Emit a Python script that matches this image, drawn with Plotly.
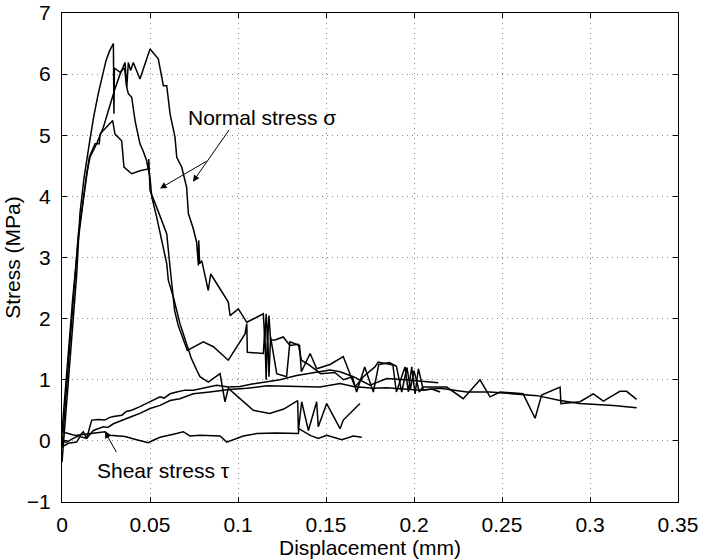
import plotly.graph_objects as go

# ---------------- data ----------------
# Normal stress, test 1 (ends near 0.17 mm)
n1_x = [0, 0.0035, 0.0064, 0.0083, 0.0102, 0.0125, 0.0155, 0.018, 0.0206, 0.023, 0.025, 0.027,
        0.0292, 0.0295, 0.0298, 0.0307, 0.033, 0.0355, 0.0368, 0.0377, 0.0396, 0.0415, 0.0443,
        0.046, 0.048, 0.05, 0.051, 0.0538, 0.0576, 0.0595, 0.0604, 0.0633, 0.067, 0.0708, 0.0735,
        0.0765, 0.0784, 0.0831, 0.0898, 0.0926, 0.0945, 0.1, 0.1087, 0.118, 0.126, 0.1339, 0.1343,
        0.1362, 0.14, 0.1447, 0.1456, 0.1504, 0.158, 0.1598, 0.1693]
n1_y = [-0.35, 1.0, 2.1, 2.7, 3.72, 4.3, 4.86, 5.3, 5.68, 6.0, 6.22, 6.38,
        6.5, 5.35, 6.1, 6.08, 6.03, 6.1, 5.78, 5.68, 5.62, 5.24, 4.86,
        4.75, 4.59, 4.31, 3.99, 3.66, 3.17, 2.9, 2.63, 2.35, 1.92, 1.6, 1.35,
        1.16, 1.05, 0.96, 1.1, 0.64, 0.86, 0.72, 0.5, 0.45, 0.52, 0.66, 0.17,
        0.64, 0.17, 0.64, 0.23, 0.61, 0.2, 0.34, 0.61]

# Normal stress, test 2 (ends near 0.215 mm)
n2_x = [0, 0.003, 0.006, 0.0093, 0.0131, 0.0155, 0.0188, 0.0212, 0.0216, 0.025, 0.0288, 0.0301,
        0.0339, 0.0352, 0.0396, 0.0443, 0.049, 0.0493, 0.05, 0.0538, 0.0566, 0.0595, 0.0614,
        0.064, 0.066, 0.0712, 0.0803, 0.086, 0.0945, 0.104, 0.105, 0.1053, 0.1144, 0.1152,
        0.116, 0.1168, 0.1176, 0.1185, 0.122, 0.1276, 0.1295, 0.135, 0.136, 0.141, 0.1447,
        0.1523, 0.1598, 0.1665, 0.1712, 0.1778, 0.1797, 0.188, 0.19, 0.1949, 0.1968, 0.1987,
        0.2006, 0.2025, 0.2053, 0.21, 0.2148]
n2_y = [-0.1, 1.0, 2.2, 3.39, 4.15, 4.64, 4.86, 4.86, 5.02, 5.13, 5.24, 5.02,
        4.91, 4.48, 4.37, 4.42, 4.45, 4.61, 4.1, 3.82, 3.6, 3.39, 2.84,
        2.13, 1.89, 1.48, 1.62, 1.54, 1.32, 1.75, 1.92, 1.45, 1.43, 1.81,
        1.0, 1.81, 1.05, 1.7, 1.1, 1.05, 1.62, 1.56, 1.13, 1.43, 1.18,
        1.25, 1.38, 0.88, 1.05, 1.21, 1.29, 1.24, 0.8, 1.21, 0.8, 1.21,
        0.77, 1.18, 0.83, 0.85, 0.8]

# Normal stress, test 3 (ends near 0.33 mm)
n3_x = [0, 0.003, 0.006, 0.0093, 0.012, 0.014, 0.0159, 0.0197, 0.0235, 0.0263, 0.0301, 0.033,
        0.0358, 0.0368, 0.0377, 0.039, 0.0405, 0.0443, 0.05, 0.0547, 0.0576, 0.0595, 0.0614,
        0.0642, 0.0652, 0.068, 0.0708, 0.0718, 0.0746, 0.0765, 0.0775, 0.0777, 0.0782, 0.0794,
        0.0831, 0.0845, 0.0879, 0.0945, 0.0955, 0.1002, 0.105, 0.1144, 0.1152, 0.116, 0.1168,
        0.1176, 0.1185, 0.121, 0.1257, 0.1295, 0.1343, 0.136, 0.14, 0.147, 0.155, 0.16, 0.165,
        0.1674, 0.172, 0.1769, 0.18, 0.186, 0.19, 0.193, 0.196, 0.198, 0.2, 0.203, 0.205,
        0.2186, 0.228, 0.2375, 0.2432, 0.2489, 0.262, 0.2688, 0.2725, 0.281, 0.283, 0.2835,
        0.2943, 0.3019, 0.3076, 0.3133, 0.317, 0.3208, 0.3265]
n3_y = [0.15, 1.2, 2.3, 3.3, 3.9, 4.37, 4.64, 4.86, 5.13, 5.4, 5.76, 6.0,
        6.19, 5.78, 6.19, 6.06, 6.19, 5.92, 6.41, 6.25, 5.81, 5.81, 5.35,
        4.97, 4.64, 4.48, 4.15, 3.72, 3.47, 3.25, 2.87, 3.28, 2.9, 2.95,
        2.46, 2.73, 2.57, 2.27, 2.05, 2.16, 1.94, 2.08, 1.65, 2.08, 1.65,
        2.05, 1.65, 1.65, 1.7, 1.56, 1.58, 1.32, 1.25, 1.1, 1.12, 1.0, 1.05,
        0.8, 1.21, 0.8, 1.25, 1.28, 1.22, 0.8, 1.2, 0.85, 1.15, 0.8, 0.88,
        0.88, 0.69, 1.0, 0.72, 0.8, 0.77, 0.37, 0.75, 0.86, 0.88, 0.61,
        0.64, 0.77, 0.65, 0.75, 0.81, 0.81, 0.68]

# Shear stress, test 1
s1_x = [0, 0.0074, 0.013, 0.0178, 0.0244, 0.0273, 0.0358, 0.0424, 0.049, 0.0519, 0.0557, 0.0633,
        0.0689, 0.0727, 0.0784, 0.0898, 0.0936, 0.103, 0.1106, 0.122, 0.1343, 0.1346, 0.141,
        0.1456, 0.1504, 0.159, 0.1655, 0.1703]
s1_y = [0.15, 0.09, 0.11, 0.13, 0.15, 0.09, 0.07, 0.02, -0.03, 0.01, 0.06, 0.11,
        0.15, 0.08, 0.09, 0.08, -0.02, 0.08, 0.12, 0.13, 0.12, 0.2, 0.09,
        0.04, 0.09, 0.02, 0.08, 0.06]

# Shear stress, test 2
s2_x = [0, 0.0027, 0.0064, 0.0102, 0.0121, 0.014, 0.0169, 0.0206, 0.0244, 0.0268, 0.0292, 0.034,
        0.0365, 0.0396, 0.0443, 0.047, 0.05, 0.0557, 0.058, 0.0614, 0.0652, 0.0699, 0.0746,
        0.084, 0.0879, 0.0945, 0.1011, 0.108, 0.1144, 0.1239, 0.1333, 0.1447, 0.1523, 0.158,
        0.1655, 0.175, 0.1845, 0.195, 0.205, 0.2138]
s2_y = [-0.02, -0.02, 0.04, 0.09, 0.15, 0.04, 0.34, 0.35, 0.34, 0.38, 0.4, 0.42,
        0.48, 0.5, 0.56, 0.6, 0.64, 0.72, 0.7, 0.77, 0.8, 0.83, 0.83,
        0.88, 0.91, 0.88, 0.89, 0.93, 0.96, 1.0, 1.07, 1.13, 1.16, 1.13,
        1.05, 0.91, 1.02, 1.0, 0.97, 0.95]

# Shear stress, test 3
s3_x = [0, 0.0036, 0.0083, 0.0102, 0.014, 0.0178, 0.0235, 0.026, 0.0292, 0.034, 0.0396, 0.0443,
        0.05, 0.0557, 0.0614, 0.067, 0.0746, 0.084, 0.095, 0.105, 0.1166, 0.1466, 0.158,
        0.1655, 0.1769, 0.1845, 0.2034, 0.2148, 0.23, 0.2432, 0.2564, 0.27, 0.283, 0.294,
        0.3133, 0.3265]
s3_y = [-0.1, -0.04, -0.02, 0.07, 0.04, 0.17, 0.23, 0.22, 0.28, 0.34, 0.4, 0.45,
        0.53, 0.58, 0.66, 0.69, 0.77, 0.8, 0.84, 0.86, 0.9, 0.88, 0.94,
        0.89, 0.86, 0.87, 0.83, 0.86, 0.8, 0.8, 0.77, 0.74, 0.66, 0.61,
        0.58, 0.54]

x_ticks = [0, 0.05, 0.1, 0.15, 0.2, 0.25, 0.3, 0.35]
x_tick_labels = ["0", "0.05", "0.1", "0.15", "0.2", "0.25", "0.3", "0.35"]
y_ticks = [-1, 0, 1, 2, 3, 4, 5, 6, 7]
y_tick_labels = ["\u22121", "0", "1", "2", "3", "4", "5", "6", "7"]

# ---------------- figure ----------------
FONT = "Liberation Sans, Arial, Helvetica, sans-serif"
fig = go.Figure()
for xs, ys in [(n1_x, n1_y), (n2_x, n2_y), (n3_x, n3_y),
               (s1_x, s1_y), (s2_x, s2_y), (s3_x, s3_y)]:
    fig.add_trace(go.Scatter(x=xs, y=ys, mode="lines",
                             line=dict(color="black", width=1.5),
                             showlegend=False, hoverinfo="skip"))

axis_common = dict(
    showline=True, linecolor="black", linewidth=1, mirror="ticks",
    ticks="inside", ticklen=5, tickcolor="black", tickwidth=1,
    showgrid=True, gridcolor="#8a8a8a", griddash="1px,4px", gridwidth=1,
    zeroline=False, automargin=False,
    tickfont=dict(family=FONT, size=21, color="black"),
)

fig.update_layout(
    width=707, height=560,
    margin=dict(l=62, r=29, t=13, b=58),
    paper_bgcolor="white", plot_bgcolor="white",
    font=dict(family=FONT, size=21, color="black"),
    xaxis=dict(range=[0, 0.35], tickvals=x_ticks, ticktext=x_tick_labels,
               title=dict(text="Displacement (mm)", font=dict(size=21), standoff=0),
               ticklabelstandoff=4, **axis_common),
    yaxis=dict(range=[-1, 7], tickvals=y_ticks, ticktext=y_tick_labels,
               title=dict(text="Stress (MPa)", font=dict(size=21), standoff=0),
               ticklabelstandoff=6, **axis_common),
)

arrow = dict(showarrow=True, arrowhead=2, arrowsize=1.3, arrowwidth=1,
             arrowcolor="black", axref="x", ayref="y", text="")
fig.add_annotation(x=0.0744, y=4.24, ax=0.0955, ay=5.11, **arrow)
fig.add_annotation(x=0.0557, y=4.13, ax=0.083, ay=4.59, **arrow)
fig.add_annotation(x=0.0244, y=0.15, ax=0.0314, ay=-0.21, **arrow)

fig.add_annotation(x=0.1136, y=5.29, text="Normal stress \u03c3", showarrow=False,
                   font=dict(family=FONT, size=21, color="black"))
fig.add_annotation(x=0.0574, y=-0.48, text="Shear stress \u03c4", showarrow=False,
                   font=dict(family=FONT, size=21, color="black"))

fig.write_html("out.html")
